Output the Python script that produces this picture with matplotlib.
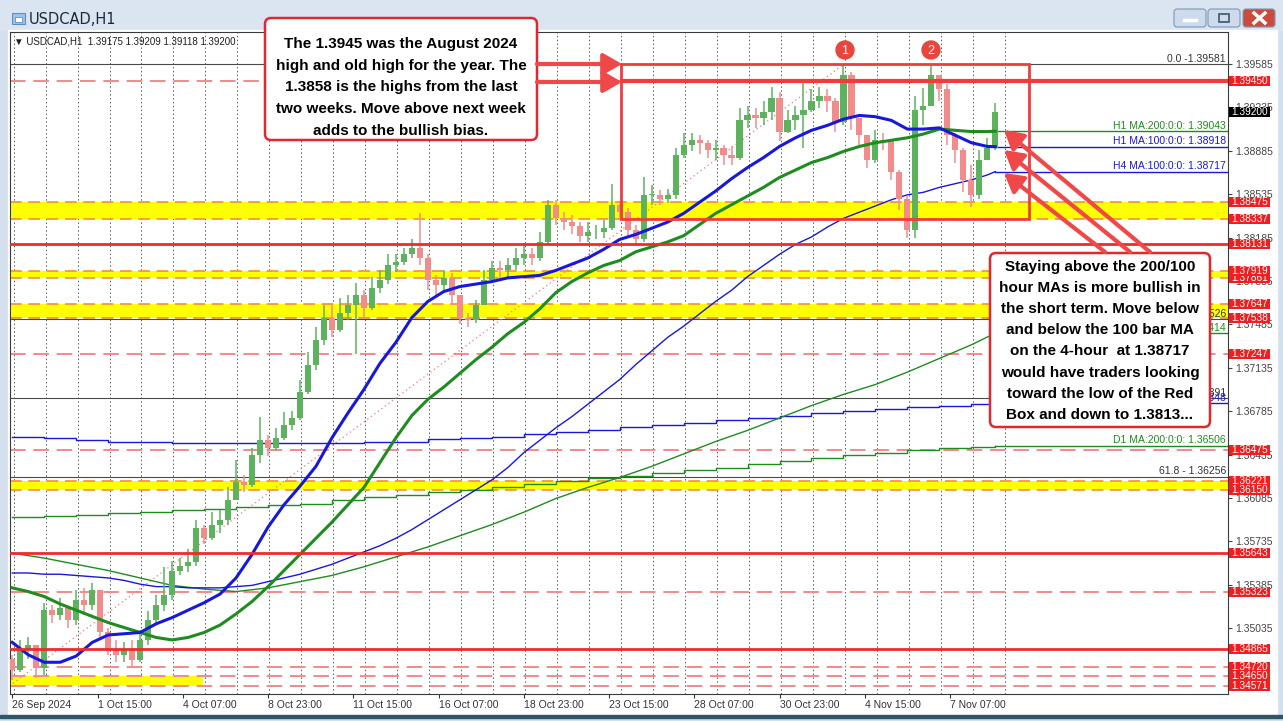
import numpy as np
import matplotlib
matplotlib.use("Agg")
import matplotlib.pyplot as plt
from matplotlib.patches import Rectangle, FancyBboxPatch, Circle
from matplotlib.transforms import blended_transform_factory

plt.rcParams['font.family'] = ['Liberation Sans', 'DejaVu Sans']

W, H = 1283, 721

# USDCAD H1, one candle every 6 hourly bars (bar 0 = 26 Sep 23:00)
first_open = 1.3479
close = [1.3470, 1.3486, 1.3490, 1.3471, 1.3518, 1.3514, 1.3520, 1.3510, 1.3526, 1.3522,
         1.3534, 1.3500, 1.3487, 1.3482, 1.3486, 1.3478, 1.3494, 1.3510, 1.3522, 1.3530,
         1.3550, 1.3554, 1.3557, 1.3584, 1.3576, 1.3587, 1.3591, 1.3607, 1.3621, 1.3619,
         1.3643, 1.3655, 1.3649, 1.3657, 1.3667, 1.3673, 1.3694, 1.3716, 1.3736, 1.3754,
         1.3744, 1.3758, 1.3764, 1.3772, 1.3762, 1.3778, 1.3784, 1.3796, 1.3799, 1.3805,
         1.3810, 1.3802, 1.3784, 1.3780, 1.3786, 1.3772, 1.3754, 1.3752, 1.3764, 1.3784,
         1.3794, 1.3792, 1.3796, 1.3802, 1.3805, 1.3802, 1.3815, 1.3845, 1.3834, 1.3831,
         1.3828, 1.3820, 1.3823, 1.3823, 1.3826, 1.3845, 1.3839, 1.3825, 1.3817, 1.3853,
         1.3853, 1.3850, 1.3853, 1.3885, 1.3893, 1.3897, 1.3895, 1.3889, 1.3891, 1.3885,
         1.3883, 1.3913, 1.3917, 1.3915, 1.3920, 1.3931, 1.3904, 1.3913, 1.3917, 1.3921,
         1.3929, 1.3933, 1.3929, 1.3912, 1.3950, 1.3915, 1.3901, 1.3881, 1.3897, 1.3896,
         1.3871, 1.3850, 1.3825, 1.3921, 1.3925, 1.3950, 1.3938, 1.3901, 1.3889, 1.3865,
         1.3853, 1.3881, 1.3891, 1.3920]
high = [1.3482, 1.3494, 1.3496, 1.3490, 1.3524, 1.3522, 1.3528, 1.3520, 1.3534, 1.3536,
        1.3540, 1.3534, 1.3504, 1.3494, 1.3492, 1.3494, 1.3502, 1.3517, 1.3530, 1.3553,
        1.3558, 1.3560, 1.3567, 1.3591, 1.3587, 1.3597, 1.3599, 1.3617, 1.3639, 1.3627,
        1.3649, 1.3674, 1.3659, 1.3665, 1.3678, 1.3679, 1.3704, 1.3726, 1.3746, 1.3764,
        1.3764, 1.3770, 1.3772, 1.3782, 1.3776, 1.3787, 1.3792, 1.3805, 1.3805, 1.3810,
        1.3817, 1.3838, 1.3805, 1.3788, 1.3792, 1.3790, 1.3772, 1.3758, 1.3768, 1.3792,
        1.3800, 1.3800, 1.3802, 1.3810, 1.3814, 1.3810, 1.3823, 1.3849, 1.3849, 1.3839,
        1.3837, 1.3831, 1.3831, 1.3829, 1.3833, 1.3862, 1.3847, 1.3842, 1.3829, 1.3867,
        1.3861, 1.3857, 1.3858, 1.3891, 1.3903, 1.3903, 1.3901, 1.3897, 1.3897, 1.3893,
        1.3892, 1.3923, 1.3925, 1.3923, 1.3929, 1.3940, 1.3936, 1.3921, 1.3925, 1.3943,
        1.3938, 1.3940, 1.3938, 1.3931, 1.3958, 1.3952, 1.3915, 1.3901, 1.3905, 1.3903,
        1.3897, 1.3873, 1.3852, 1.3933, 1.3939, 1.3958, 1.3950, 1.3942, 1.3903, 1.3891,
        1.3877, 1.3889, 1.3899, 1.3927]
low = [1.3462, 1.3468, 1.3479, 1.3463, 1.3466, 1.3508, 1.3510, 1.3504, 1.3506, 1.3514,
       1.3518, 1.3494, 1.3482, 1.3476, 1.3476, 1.3473, 1.3476, 1.3490, 1.3506, 1.3517,
       1.3526, 1.3546, 1.3549, 1.3554, 1.3571, 1.3575, 1.3580, 1.3587, 1.3607, 1.3613,
       1.3617, 1.3637, 1.3642, 1.3646, 1.3655, 1.3663, 1.3671, 1.3692, 1.3712, 1.3732,
       1.3738, 1.3742, 1.3752, 1.3725, 1.3754, 1.3760, 1.3774, 1.3781, 1.3791, 1.3796,
       1.3802, 1.3796, 1.3776, 1.3771, 1.3775, 1.3764, 1.3749, 1.3746, 1.3750, 1.3764,
       1.3783, 1.3784, 1.3786, 1.3792, 1.3796, 1.3796, 1.3800, 1.3813, 1.3829, 1.3825,
       1.3821, 1.3815, 1.3815, 1.3817, 1.3818, 1.3825, 1.3833, 1.3818, 1.3813, 1.3815,
       1.3845, 1.3845, 1.3846, 1.3850, 1.3883, 1.3888, 1.3886, 1.3883, 1.3881, 1.3877,
       1.3877, 1.3881, 1.3907, 1.3907, 1.3909, 1.3913, 1.3896, 1.3903, 1.3905, 1.3891,
       1.3920, 1.3923, 1.3920, 1.3904, 1.3909, 1.3905, 1.3893, 1.3875, 1.3879, 1.3889,
       1.3865, 1.3841, 1.3818, 1.3818, 1.3909, 1.3925, 1.3929, 1.3893, 1.3879, 1.3855,
       1.3843, 1.3850, 1.3881, 1.3889]
bars = np.arange(len(close)) * 6

# moving averages, H1 ones every 12 bars
ma_bars = np.r_[np.arange(0, 733, 12), 738]
h1_ma100 = [1.3492, 1.3482, 1.3476, 1.3476, 1.3481, 1.3492, 1.3498, 1.3499, 1.3500, 1.3507,
            1.3512, 1.3518, 1.3524, 1.3531, 1.3544, 1.3563, 1.3585, 1.3603, 1.3618, 1.3634,
            1.3657, 1.3677, 1.3696, 1.3717, 1.3734, 1.3754, 1.3767, 1.3775, 1.3779, 1.3781,
            1.3783, 1.3786, 1.3787, 1.3788, 1.3792, 1.3797, 1.3802, 1.3809, 1.3817, 1.3821,
            1.3826, 1.3831, 1.3838, 1.3847, 1.3856, 1.3866, 1.3875, 1.3883, 1.3892, 1.3899,
            1.3905, 1.3909, 1.3914, 1.3917, 1.3916, 1.3913, 1.3906, 1.3906, 1.3907, 1.3901,
            1.3895, 1.3892, 1.38918]
h1_ma200 = [1.3536, 1.3533, 1.3529, 1.3523, 1.3518, 1.3513, 1.3508, 1.3504, 1.3500, 1.3496,
            1.3494, 1.3496, 1.3500, 1.3506, 1.3515, 1.3525, 1.3537, 1.3550, 1.3563, 1.3576,
            1.3589, 1.3603, 1.3617, 1.3637, 1.3657, 1.3675, 1.3688, 1.3698, 1.3709, 1.3720,
            1.3730, 1.3741, 1.3750, 1.3761, 1.3774, 1.3783, 1.3790, 1.3796, 1.3800, 1.3807,
            1.3811, 1.3815, 1.3820, 1.3829, 1.3838, 1.3845, 1.3852, 1.3859, 1.3867, 1.3873,
            1.3879, 1.3883, 1.3888, 1.3892, 1.3895, 1.3897, 1.3899, 1.3902, 1.3906, 1.3905,
            1.3904, 1.3904, 1.39043]
h4_ma100 = [1.3548, 1.3548, 1.3547, 1.3547, 1.3546, 1.3545, 1.3544, 1.3542, 1.3539, 1.3537,
            1.3537, 1.3536, 1.3536, 1.3536, 1.3537, 1.3538, 1.3541, 1.3544, 1.3547, 1.3551,
            1.3555, 1.3560, 1.3565, 1.3570, 1.3576, 1.3583, 1.3591, 1.3599, 1.3607, 1.3615,
            1.3623, 1.3633, 1.3645, 1.3655, 1.3665, 1.3674, 1.3684, 1.3694, 1.3704, 1.3716,
            1.3727, 1.3738, 1.3747, 1.3757, 1.3767, 1.3776, 1.3787, 1.3796, 1.3805, 1.3813,
            1.3819, 1.3827, 1.3834, 1.3839, 1.3844, 1.3849, 1.3853, 1.3855, 1.3859, 1.3862,
            1.3865, 1.3869, 1.38717]

# slower averages, one value per day
day_bars = np.r_[np.arange(0, 721, 24), 738]
h4_ma200 = [1.3564, 1.3560, 1.3555, 1.3550, 1.3544, 1.3538, 1.3535, 1.3533, 1.3536, 1.3541,
            1.3546, 1.3553, 1.3561, 1.3569, 1.3578, 1.3587, 1.3597, 1.3608, 1.3617, 1.3625,
            1.3634, 1.3644, 1.3654, 1.3663, 1.3673, 1.3683, 1.3692, 1.3700, 1.3710, 1.3721,
            1.3732, 1.37414]
d1_ma100 = [1.3658, 1.3657, 1.3655, 1.3654, 1.3654, 1.3653, 1.3653, 1.3653, 1.3653, 1.3653,
            1.3653, 1.3654, 1.3654, 1.3656, 1.3657, 1.3658, 1.3660, 1.3662, 1.3663, 1.3666,
            1.3667, 1.3669, 1.3671, 1.3673, 1.3675, 1.3677, 1.3679, 1.3680, 1.3682, 1.3683,
            1.3684, 1.36848]
d1_ma200 = [1.3593, 1.3594, 1.3595, 1.3596, 1.3597, 1.3599, 1.3600, 1.3601, 1.3603, 1.3604,
            1.3607, 1.3609, 1.3611, 1.3613, 1.3615, 1.3617, 1.3620, 1.3622, 1.3625, 1.3626,
            1.3629, 1.3631, 1.3633, 1.3636, 1.3638, 1.3641, 1.3643, 1.3645, 1.3647, 1.3649,
            1.3650, 1.36506]

# horizontal levels
zones = [(1.38475, 1.38337), (1.37919, 1.37861), (1.37647, 1.37538), (1.36221, 1.36150)]
solid_levels = [1.38131, 1.35643, 1.34865]
dashed_levels = [1.39450, 1.37247, 1.36475, 1.35323, 1.34720, 1.34650, 1.34571]
tag_levels = [1.39450, 1.38475, 1.38337, 1.38131, 1.37861, 1.37919, 1.37647, 1.37538,
              1.37247, 1.36475, 1.36221, 1.36150, 1.35643, 1.35323, 1.34865,
              1.34720, 1.34650, 1.34571]
last_price = 1.39200
fib_high, fib_low = 1.39581, 1.34201
fib_levels = [(0.0, 1.39581), (38.2, 1.37526), (50.0, 1.36891), (61.8, 1.36256)]

time_ticks = np.arange(0, 705, 64)
time_labels = ['26 Sep 2024', '1 Oct 15:00', '4 Oct 07:00', '8 Oct 23:00', '11 Oct 15:00',
               '16 Oct 07:00', '18 Oct 23:00', '23 Oct 15:00', '28 Oct 07:00',
               '30 Oct 23:00', '4 Nov 15:00', '7 Nov 07:00']
price_ticks = [1.35035 + 0.0035 * i for i in range(14)]

RED = '#ee2b2b'
UP = '#5db35d'
DOWN = '#f28c8c'
BLUE = '#1818dc'
GREEN = '#1e8c1e'
XMAX = 912.7
YMIN, YMAX = 1.34504, 1.39843

fig = plt.figure(figsize=(W / 100, H / 100), dpi=100)
fig.patch.set_facecolor('#d3dfec')

# window frame, drawn in pixels
bg = fig.add_axes([0, 0, 1, 1], zorder=0)
bg.set_xlim(0, W)
bg.set_ylim(H, 0)
bg.axis('off')
bg.add_patch(Rectangle((0, 0), W, 30, color='#dbe5f1'))
bg.add_patch(Rectangle((8, 30), 1269, 685, color='white'))
bg.add_patch(Rectangle((0, 715), W, 3, color='#2f5668'))
bg.add_patch(Rectangle((12, 13), 13, 11, fc='#9fc3e6', ec='#5d8fc0', lw=0.8))
bg.add_patch(Rectangle((15, 17), 7, 5, fc='white', ec='#5d8fc0', lw=0.6))
bg.text(29, 19, 'USDCAD,H1', fontsize=10.5, color='#1b2a3a', va='center',
        family=['DejaVu Sans'])
for x0, fc in [(1174, '#cddbec'), (1208, '#cddbec'), (1243, '#cc4b3c')]:
    bg.add_patch(FancyBboxPatch((x0, 9), 32, 18, boxstyle='round,pad=0,rounding_size=3',
                                fc=fc, ec='#7f97b3', lw=0.8))
bg.plot([1184, 1196], [20, 20], color='white', lw=2.5)
bg.add_patch(Rectangle((1219, 14), 10, 8, fc='none', ec='#3d5670', lw=1.2))
bg.plot([1254, 1265], [13, 23], color='white', lw=2.5)
bg.plot([1254, 1265], [23, 13], color='white', lw=2.5)

ax = fig.add_axes([10 / W, (H - 694) / H, 1218 / W, 662 / H], zorder=1)
ax.set_xlim(-1.7, XMAX)
ax.set_ylim(YMIN, YMAX)
for s in ax.spines.values():
    s.set_color('#3a3a3a')
    s.set_linewidth(0.8)

# daily separators
for b in range(1, 746, 24):
    ax.axvline(b, color='#5a5a5a', lw=0.7, ls=(0, (1.5, 2.5)), zorder=0.5)

for top, bot in zones:
    ax.axhspan(bot, top, color='#ffff00', lw=0, zorder=1)
    for v in (top, bot):
        ax.axhline(v, color='#f0903c', lw=1.2, ls=(0, (7, 4)), zorder=1.2)
ax.fill_between([-2, 143], 1.34571, 1.34650, color='#ffff00', lw=0, zorder=1)

for v in dashed_levels:
    ax.axhline(v, color='#f18a8a', lw=1.4, ls=(0, (8, 4)), zorder=1.3)

# fibonacci retracement
yt = blended_transform_factory(ax.transAxes, ax.transData)
for pct, v in fib_levels:
    ax.axhline(v, color='#4a4a4a', lw=0.8, zorder=1.4)
    txt = '0.0 -%.5f' % v if pct == 0 else '%.1f - %.5f' % (pct, v)
    ax.text(0.9984, v + 0.00004, txt, transform=yt, ha='right', va='bottom',
            fontsize=7.5, color='#333333', zorder=5)
ax.plot([-48, 624], [fib_low, fib_high], color='#f07878', lw=0.9, ls=(0, (1, 2.5)), zorder=1.5)

# thin MAs
ax.plot(day_bars, d1_ma100, color=BLUE, lw=1.0, drawstyle='steps-post', zorder=2)
ax.plot(day_bars, d1_ma200, color=GREEN, lw=1.0, drawstyle='steps-post', zorder=2)
ax.plot(day_bars, h4_ma200, color=GREEN, lw=1.0, zorder=2)
ax.plot(ma_bars, h4_ma100, color=BLUE, lw=1.0, zorder=2)

# candles
c = np.array(close)
o = np.r_[first_open, c[:-1]]
cols = np.where(c >= o, UP, DOWN)
ax.vlines(bars, low, high, colors=cols, lw=1.1, zorder=3)
ax.bar(bars, np.maximum(np.abs(c - o), 0.00004), bottom=np.minimum(o, c), width=4.6,
       color=cols, lw=0, zorder=3)

# hourly MAs
ax.plot(ma_bars, h1_ma200, color=GREEN, lw=2.2, zorder=4)
ax.plot(ma_bars, h1_ma100, color=BLUE, lw=2.2, zorder=4)

# MA value lines out to the right edge
ma_ends = [('H1 MA:200:0:0: ', h1_ma200[-1], GREEN, ma_bars[-1]),
           ('H1 MA:100:0:0: ', h1_ma100[-1], BLUE, ma_bars[-1]),
           ('H4 MA:100:0:0: ', h4_ma100[-1], BLUE, ma_bars[-1]),
           ('H4 MA:200:0:0: ', h4_ma200[-1], GREEN, day_bars[-1]),
           ('D1 MA:100:0:0: ', d1_ma100[-1], BLUE, day_bars[-1]),
           ('D1 MA:200:0:0: ', d1_ma200[-1], GREEN, day_bars[-1])]
for name, v, col, b0 in ma_ends:
    ax.plot([b0, XMAX], [v, v], color=col, lw=1.0, zorder=2)
    ax.text(0.9984, v + 0.00004, '%s%.5f' % (name, v), transform=yt, ha='right',
            va='bottom', fontsize=7.5, color=col, zorder=5)

for v in solid_levels:
    ax.axhline(v, color=RED, lw=2.0, zorder=4.5)

# red box and the 1.3945 line
ax.add_patch(Rectangle((457, 1.38337), 306, fib_high - 1.38337, fill=False,
                       ec='#f03c3c', lw=2.0, zorder=4.6))
ax.plot([457, XMAX], [1.3945, 1.3945], color='#f03c3c', lw=3.0, zorder=4.6,
        solid_capstyle='butt')

# price axis
ax.yaxis.tick_right()
ax.set_yticks(price_ticks)
ax.set_yticklabels(['%.5f' % p for p in price_ticks])
ax.tick_params(axis='y', length=3, pad=2, labelsize=7.5, colors='#444444')
ax.set_xticks(time_ticks)
ax.set_xticklabels(time_labels, ha='left')
ax.tick_params(axis='x', length=3, pad=1.5, labelsize=7.5, colors='#333333')

# price tags: fixed 41 x 10 px boxes on the price scale
px_w = 41 / 1218
half_h = 5.0 * (YMAX - YMIN) / 662


def price_tag(v, fc):
    ax.add_patch(Rectangle((1.0008, v - half_h), px_w, 2 * half_h, transform=yt,
                           fc=fc, ec='none', clip_on=False, zorder=8))
    ax.text(1.0008 + px_w / 2, v, '%.5f' % v, transform=yt, ha='center', va='center',
            fontsize=7.3, color='white', clip_on=False, zorder=8)


for v in tag_levels:
    price_tag(v, '#f01e1e')
price_tag(last_price, 'black')

# notes and arrows on top, in pixels
ov = fig.add_axes([0, 0, 1, 1], zorder=2)
ov.set_xlim(0, W)
ov.set_ylim(H, 0)
ov.axis('off')

ov.text(14, 41, '\u25bc USDCAD,H1  1.39175 1.39209 1.39118 1.39200', fontsize=7,
        color='#1e1e1e', va='center', family=['Liberation Sans', 'DejaVu Sans'])

note1 = ['The 1.3945 was the August 2024',
         'high and old high for the year. The',
         '1.3858 is the highs from the last',
         'two weeks. Move above next week',
         'adds to the bullish bias.']
note2 = ['Staying above the 200/100',
         'hour MAs is more bullish in',
         'the short term. Move below',
         'and below the 100 bar MA',
         'on the 4-hour  at 1.38717',
         'would have traders looking',
         'toward the low of the Red',
         'Box and down to 1.3813...']

ov.add_patch(FancyBboxPatch((265, 18), 272, 122, boxstyle='round,pad=0,rounding_size=6',
                            fc='white', ec='#e0282e', lw=1.8))
for i, line in enumerate(note1):
    ov.text(401, 44 + i * 21.7, line, ha='center', va='center', fontsize=11,
            fontweight='bold', color='black')

ov.add_patch(FancyBboxPatch((990, 253), 220, 174, boxstyle='round,pad=0,rounding_size=6',
                            fc='white', ec='#e0282e', lw=1.8))
for i, line in enumerate(note2):
    ov.text(1100, 267 + i * 21.1, line, ha='center', va='center', fontsize=11,
            fontweight='bold', color='black')

arrow = dict(arrowstyle='-|>,head_length=0.7,head_width=0.4', color='#f04848', lw=3,
             shrinkA=0, shrinkB=0, mutation_scale=16)
for yy in (64, 82):
    ov.annotate('', xy=(622, yy), xytext=(537, yy), arrowprops=arrow)
for (x0, y0), (x1, y1) in [((1150, 252), (1004, 130)), ((1130, 252), (1004, 150)),
                           ((1105, 252), (1004, 173))]:
    ov.annotate('', xy=(x1, y1), xytext=(x0, y0), arrowprops=arrow)

for n, cx in ((1, 845), (2, 931)):
    ov.add_patch(Circle((cx, 50), 9, color='#e8463c'))
    ov.text(cx, 50.5, str(n), ha='center', va='center', fontsize=9, color='white')

fig.savefig('out.png', dpi=100)
